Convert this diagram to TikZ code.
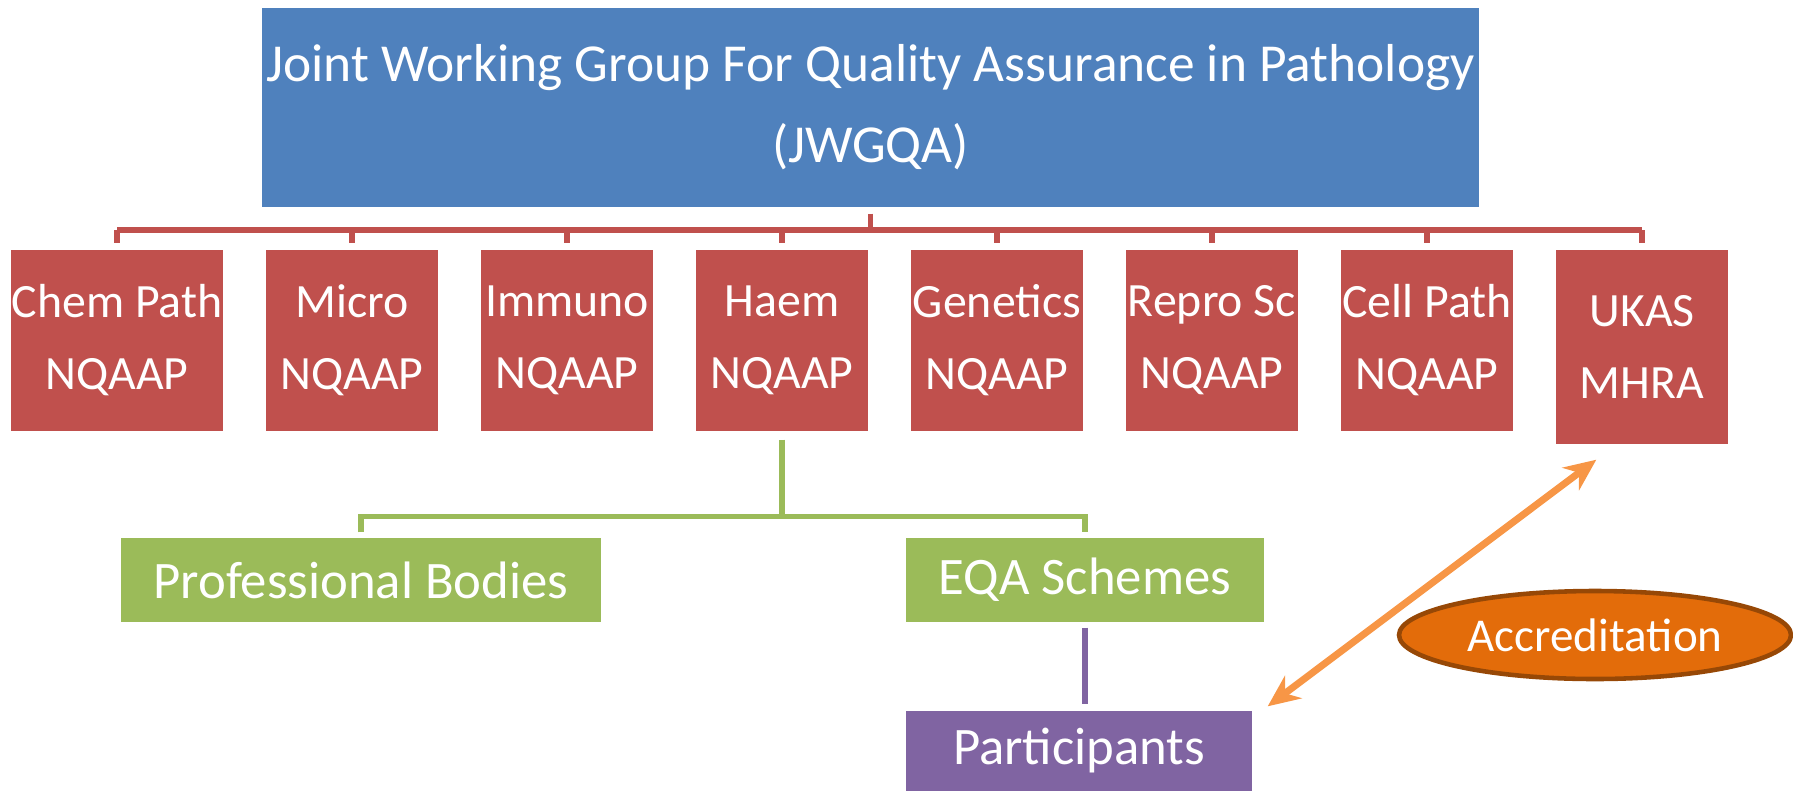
\documentclass[tikz,border=0pt]{standalone}
\usepackage{fontspec}
\setmainfont{Carlito}
\definecolor{jw_blue}{RGB}{79, 129, 189}
\definecolor{jw_red}{RGB}{192, 80, 77}
\definecolor{jw_green}{RGB}{155, 187, 89}
\definecolor{jw_purple}{RGB}{128, 100, 162}
\definecolor{jw_orange}{RGB}{247, 150, 70}
\definecolor{jw_acc}{RGB}{227, 108, 10}
\definecolor{jw_accdark}{RGB}{151, 72, 6}
\usetikzlibrary{arrows.meta, positioning, shapes.geometric, calc}

\begin{document}
\begin{tikzpicture}[font=\fontsize{13.6}{20.5}\selectfont,
            box/.style={rectangle, inner sep=0pt, align=center, text=white},
            redbox/.style={box, fill=jw_red, minimum width=1.72cm, minimum height=1.81cm},
            grnbox/.style={box, fill=jw_green, minimum height=0.84cm,
                           font=\fontsize{15}{18}\selectfont},
            redln/.style={draw=jw_red, line width=1.6pt},
            grnln/.style={draw=jw_green, line width=1.6pt},
            purln/.style={draw=jw_purple, line width=1.6pt},
            dbl/.style={{Stealth[length=0.32cm, width=0.28cm]}-{Stealth[length=0.32cm, width=0.28cm]},
                        draw=jw_orange, line width=2pt}]
            \useasboundingbox (0,0) rectangle (17.93,-7.91);
            \node[box, fill=jw_blue, minimum width=12.17cm, minimum height=1.99cm,
                  font=\fontsize{15.2}{23}\selectfont] (jwgqa)
              at (8.705,-1.075) {Joint Working Group For Quality Assurance in Pathology\\(JWGQA)};
            \node[redbox, minimum width=2.12cm] (chem) at (1.17,-3.405) {Chem Path\\NQAAP};
            \node[redbox] (micro) at (3.52,-3.405) {Micro\\NQAAP};
            \node[redbox] (immuno) at (5.67,-3.405) {Immuno\\NQAAP};
            \node[redbox] (haem) at (7.82,-3.405) {Haem\\NQAAP};
            \node[redbox] (genetics) at (9.97,-3.405) {Genetics\\NQAAP};
            \node[redbox] (repro) at (12.12,-3.405) {Repro Sc\\NQAAP};
            \node[redbox] (cell) at (14.27,-3.405) {Cell Path\\NQAAP};
            \node[redbox, minimum height=1.94cm] (ukas) at (16.42,-3.47) {UKAS\\MHRA};
            \node[grnbox, minimum width=4.80cm] (prof) at (3.61,-5.80) {Professional Bodies};
            \node[grnbox, minimum width=3.58cm] (eqa) at (10.85,-5.80) {EQA Schemes};
            \node[box, fill=jw_purple, minimum width=3.46cm, minimum height=0.80cm,
                  font=\fontsize{15}{18}\selectfont] (part)
              at (10.79,-7.51) {Participants};
            \node[ellipse, draw=jw_accdark, line width=1.3pt, fill=jw_acc, text=white,
                  inner sep=0pt, minimum width=3.92cm, minimum height=0.88cm,
                  font=\fontsize{13.4}{16}\selectfont] (accr)
              at (15.95,-6.35) {Accreditation};
            % red tree
            \coordinate (rbar) at (0,-2.30);
            \draw[redln] ([yshift=-0.06cm]jwgqa.south) -- (jwgqa.south |- rbar);
            \draw[redln] (chem.north |- rbar) -- (ukas.north |- rbar);
            \foreach \n in {chem, micro, immuno, haem, genetics, repro, cell, ukas}
              \draw[redln] (\n.north |- rbar) -- ([yshift=0.06cm]\n.north);
            % green tree
            \coordinate (gbar) at (0,-5.165);
            \draw[grnln] ([yshift=-0.08cm]haem.south) -- (haem.south |- gbar);
            \draw[grnln] ([yshift=0.05cm]prof.north) -- (prof.north |- gbar)
              -- (eqa.north |- gbar) -- ([yshift=0.05cm]eqa.north);
            \draw[purln] ([yshift=-0.05cm]eqa.south) -- ([yshift=0.06cm]eqa.south |- part.north);
            \draw[dbl] ([xshift=0.15cm, yshift=0.04cm]part.north east)
              -- ([xshift=0.41cm, yshift=-0.15cm]ukas.south west);
          \end{tikzpicture}
\end{document}
